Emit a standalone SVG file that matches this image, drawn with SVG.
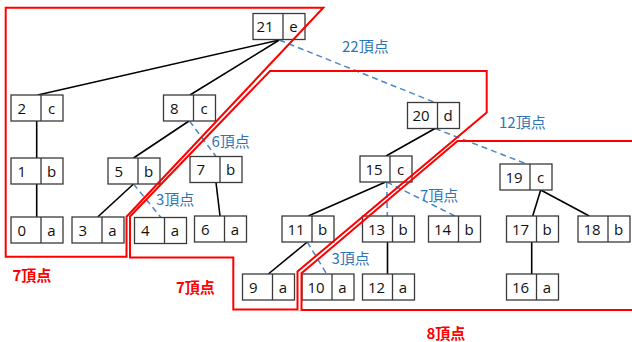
<svg xmlns="http://www.w3.org/2000/svg" width="632" height="342" viewBox="0 0 632 342">
<style>
.box{fill:#fff;stroke:#3a3a3a;stroke-width:1.3}
.div{stroke:#3a3a3a;stroke-width:1.3}
.t{font-family:"Open Sans","Noto Sans",sans-serif;font-size:15px;fill:#111}
.e{stroke:#000;stroke-width:1.6;fill:none}
.d{stroke:#4a86c8;stroke-width:1.5;stroke-dasharray:6 4;fill:none}
.r{stroke:#ff0000;stroke-width:2;fill:none}
.bl{font-family:"Noto Sans CJK JP","Noto Sans",sans-serif;font-size:15px;fill:#2e75b6}
.rl{font-family:"Noto Sans CJK JP","Noto Sans",sans-serif;font-size:15px;fill:#ff0000;font-weight:bold}
</style>
<g id="connectors">
<line class="e" x1="279.3" y1="40" x2="37.7" y2="95"/>
<line class="e" x1="279.3" y1="40" x2="190" y2="95"/>
<line class="d" x1="279.3" y1="40" x2="435" y2="102.5"/>
<line class="e" x1="36.7" y1="121" x2="36.7" y2="158"/>
<line class="e" x1="36.7" y1="184" x2="36.7" y2="217"/>
<line class="e" x1="189" y1="121" x2="133.5" y2="158"/>
<line class="d" x1="189.5" y1="121" x2="216" y2="156.5"/>
<line class="e" x1="133.5" y1="184" x2="97.7" y2="217"/>
<line class="d" x1="133.5" y1="184" x2="161" y2="217.5"/>
<line class="e" x1="216" y1="182.5" x2="220" y2="216"/>
<line class="e" x1="435" y1="128.5" x2="386" y2="156"/>
<line class="d" x1="435" y1="128.5" x2="526.7" y2="164"/>
<line class="e" x1="385.5" y1="182" x2="308.3" y2="216"/>
<line class="d" x1="386.7" y1="182" x2="387.3" y2="216"/>
<line class="d" x1="386.7" y1="182" x2="455" y2="216"/>
<line class="e" x1="307.3" y1="242" x2="268.3" y2="274"/>
<line class="d" x1="307.3" y1="242" x2="326.7" y2="274"/>
<line class="e" x1="387.5" y1="242" x2="387.5" y2="274"/>
<line class="e" x1="540.7" y1="190" x2="532.7" y2="216"/>
<line class="e" x1="540.7" y1="190" x2="589.3" y2="216"/>
<line class="e" x1="531.7" y1="242" x2="531.7" y2="274"/>
</g>
<g id="n21"><rect class="box" x="253" y="13.5" width="52" height="26"/><line class="div" x1="283" y1="13.5" x2="283" y2="39.5"/><text class="t" x="256.5" y="32">21</text><text class="t" x="293.5" y="32" text-anchor="middle">e</text></g>
<g id="n2"><rect class="box" x="11" y="95" width="52" height="26"/><line class="div" x1="41" y1="95" x2="41" y2="121"/><text class="t" x="17.5" y="113.5">2</text><text class="t" x="51.5" y="113.5" text-anchor="middle">c</text></g>
<g id="n8"><rect class="box" x="163.5" y="95" width="52" height="26"/><line class="div" x1="193.5" y1="95" x2="193.5" y2="121"/><text class="t" x="170" y="113.5">8</text><text class="t" x="204" y="113.5" text-anchor="middle">c</text></g>
<g id="n1"><rect class="box" x="11" y="158" width="52" height="26"/><line class="div" x1="41" y1="158" x2="41" y2="184"/><text class="t" x="17.5" y="176.5">1</text><text class="t" x="51.5" y="176.5" text-anchor="middle">b</text></g>
<g id="n5"><rect class="box" x="108" y="158" width="52" height="26"/><line class="div" x1="138" y1="158" x2="138" y2="184"/><text class="t" x="114.5" y="176.5">5</text><text class="t" x="148.5" y="176.5" text-anchor="middle">b</text></g>
<g id="n7"><rect class="box" x="190" y="156.5" width="52" height="26"/><line class="div" x1="220" y1="156.5" x2="220" y2="182.5"/><text class="t" x="196.5" y="175">7</text><text class="t" x="230.5" y="175" text-anchor="middle">b</text></g>
<g id="n0"><rect class="box" x="11" y="217" width="52" height="26"/><line class="div" x1="41" y1="217" x2="41" y2="243"/><text class="t" x="17.5" y="235.5">0</text><text class="t" x="51.5" y="235.5" text-anchor="middle">a</text></g>
<g id="n3"><rect class="box" x="72" y="217" width="52" height="26"/><line class="div" x1="102" y1="217" x2="102" y2="243"/><text class="t" x="78.5" y="235.5">3</text><text class="t" x="112.5" y="235.5" text-anchor="middle">a</text></g>
<g id="n4"><rect class="box" x="134.5" y="217.5" width="52" height="26"/><line class="div" x1="164.5" y1="217.5" x2="164.5" y2="243.5"/><text class="t" x="141" y="236">4</text><text class="t" x="175" y="236" text-anchor="middle">a</text></g>
<g id="n6"><rect class="box" x="194.5" y="216" width="52" height="26"/><line class="div" x1="224.5" y1="216" x2="224.5" y2="242"/><text class="t" x="201" y="234.5">6</text><text class="t" x="235" y="234.5" text-anchor="middle">a</text></g>
<g id="n20"><rect class="box" x="407.5" y="102.5" width="52" height="26"/><line class="div" x1="437.5" y1="102.5" x2="437.5" y2="128.5"/><text class="t" x="412.5" y="121">20</text><text class="t" x="448" y="121" text-anchor="middle">d</text></g>
<g id="n15"><rect class="box" x="360" y="156" width="52" height="26"/><line class="div" x1="390" y1="156" x2="390" y2="182"/><text class="t" x="365.5" y="174.5">15</text><text class="t" x="400.5" y="174.5" text-anchor="middle">c</text></g>
<g id="n19"><rect class="box" x="500" y="164" width="52" height="26"/><line class="div" x1="530" y1="164" x2="530" y2="190"/><text class="t" x="505.5" y="182.5">19</text><text class="t" x="540.5" y="182.5" text-anchor="middle">c</text></g>
<g id="n11"><rect class="box" x="282" y="216" width="52" height="26"/><line class="div" x1="312" y1="216" x2="312" y2="242"/><text class="t" x="287.5" y="234.5">11</text><text class="t" x="322.5" y="234.5" text-anchor="middle">b</text></g>
<g id="n13"><rect class="box" x="362.5" y="216" width="52" height="26"/><line class="div" x1="392.5" y1="216" x2="392.5" y2="242"/><text class="t" x="368" y="234.5">13</text><text class="t" x="403" y="234.5" text-anchor="middle">b</text></g>
<g id="n14"><rect class="box" x="428.5" y="216" width="52" height="26"/><line class="div" x1="458.5" y1="216" x2="458.5" y2="242"/><text class="t" x="434" y="234.5">14</text><text class="t" x="469" y="234.5" text-anchor="middle">b</text></g>
<g id="n17"><rect class="box" x="506.5" y="216" width="52" height="26"/><line class="div" x1="536.5" y1="216" x2="536.5" y2="242"/><text class="t" x="512" y="234.5">17</text><text class="t" x="547" y="234.5" text-anchor="middle">b</text></g>
<g id="n18"><rect class="box" x="578" y="216" width="52" height="26"/><line class="div" x1="608" y1="216" x2="608" y2="242"/><text class="t" x="583.5" y="234.5">18</text><text class="t" x="618.5" y="234.5" text-anchor="middle">b</text></g>
<g id="n9"><rect class="box" x="242.5" y="274" width="52" height="26"/><line class="div" x1="272.5" y1="274" x2="272.5" y2="300"/><text class="t" x="249" y="292.5">9</text><text class="t" x="283" y="292.5" text-anchor="middle">a</text></g>
<g id="n10"><rect class="box" x="302" y="274" width="52" height="26"/><line class="div" x1="332" y1="274" x2="332" y2="300"/><text class="t" x="307.5" y="292.5">10</text><text class="t" x="342.5" y="292.5" text-anchor="middle">a</text></g>
<g id="n12"><rect class="box" x="362.5" y="274" width="52" height="26"/><line class="div" x1="392.5" y1="274" x2="392.5" y2="300"/><text class="t" x="368" y="292.5">12</text><text class="t" x="403" y="292.5" text-anchor="middle">a</text></g>
<g id="n16"><rect class="box" x="506.5" y="274" width="52" height="26"/><line class="div" x1="536.5" y1="274" x2="536.5" y2="300"/><text class="t" x="512" y="292.5">16</text><text class="t" x="547" y="292.5" text-anchor="middle">a</text></g>
<g id="regions">
<path class="r" d="M5.7,7.7 H323.3 L126.5,216.7 V256.7 H5.7 Z"/>
<path class="r" d="M270,71 H486.7 V112.5 L297.5,271.5 V309.5 H233.3 V257.5 H130 V216.5 Z"/>
<path class="r" d="M634,141 H457.5 L301.5,273.3 V310 H634"/>
</g>
<g id="labels">
<text class="bl" x="342" y="52">22頂点</text>
<text class="bl" x="499" y="128">12頂点</text>
<text class="bl" x="211.5" y="147">6頂点</text>
<text class="bl" x="156" y="205">3頂点</text>
<text class="bl" x="420" y="200.5">7頂点</text>
<text class="bl" x="331.5" y="264">3頂点</text>
<text class="rl" x="12.5" y="281">7頂点</text>
<text class="rl" x="176" y="293">7頂点</text>
<text class="rl" x="426.5" y="339">8頂点</text>
</g>
</svg>
